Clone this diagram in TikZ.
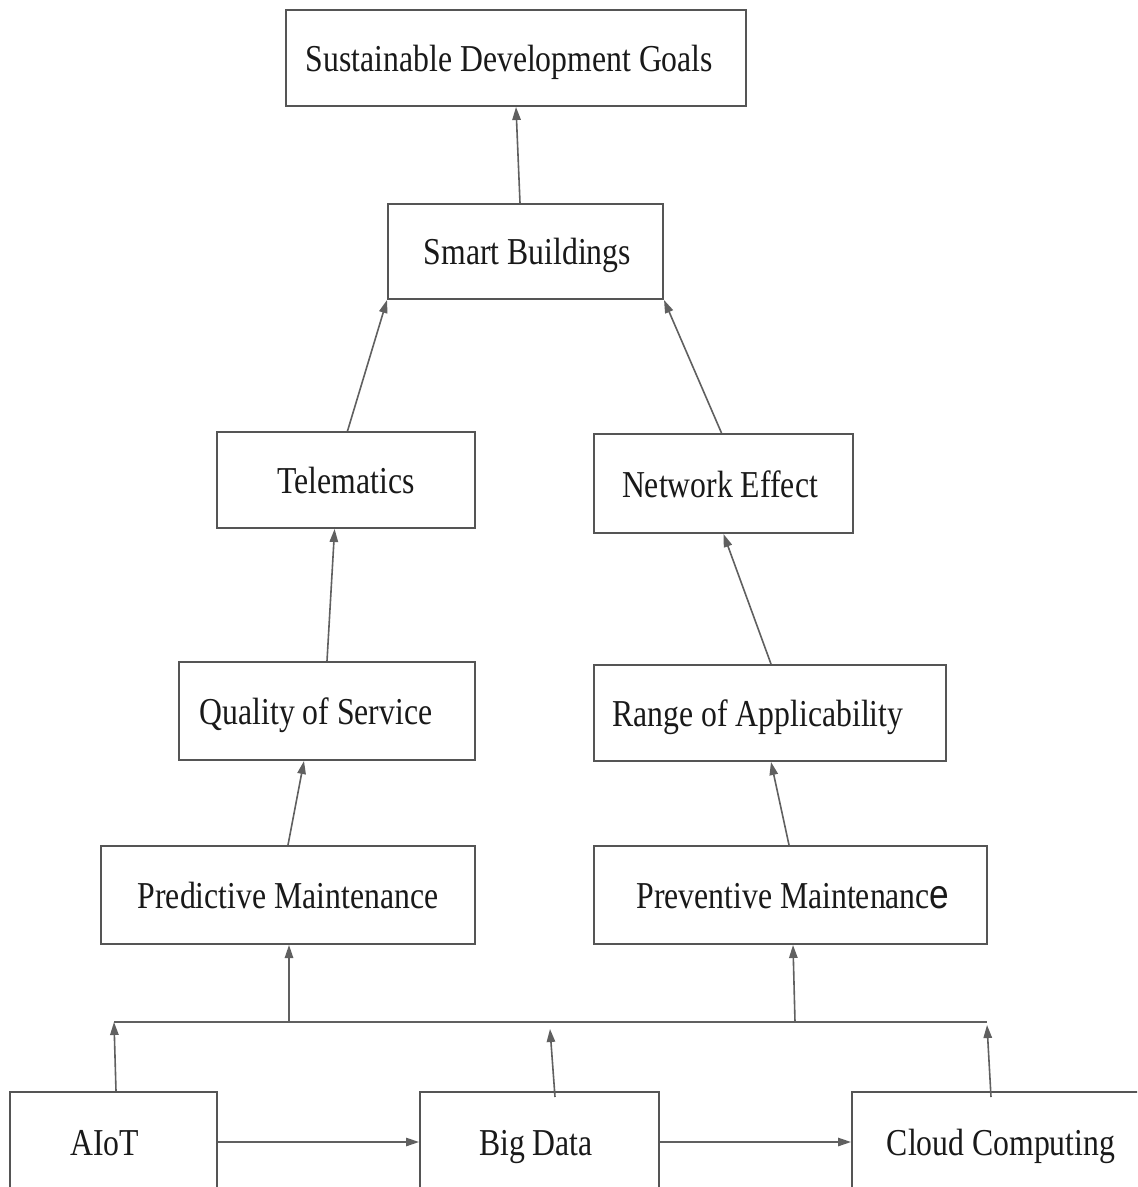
\documentclass[tikz,border=0pt]{standalone}
\usepackage{fontspec}
\setmainfont{Liberation Serif}[FakeStretch=0.835]
\newfontfamily\sanse{Liberation Sans}[FakeStretch=0.86]
\usetikzlibrary{arrows.meta}
\definecolor{boxgray}{HTML}{555555}
\definecolor{linegray}{HTML}{606060}
\begin{document}
\begin{tikzpicture}[x=0.5pt,y=-0.5pt,
  box/.style={draw=boxgray, line width=1pt, inner sep=0pt, rectangle,
    text height=15pt, text depth=1.5pt,
    font=\fontsize{19}{22}\selectfont, text=black!90},
  arr/.style={draw=linegray, line width=0.8pt, -{Triangle[length=6.5pt,width=4.2pt]}},
  bar/.style={draw=linegray, line width=1.1pt}]
\useasboundingbox (0,0) rectangle (1137,1187);
\fill[white] (0,0) rectangle (1137,1187);
\clip (0,0) rectangle (1137,1187);

\node[box, minimum width=230pt, minimum height=48pt] (sdg) at (516,58) {Sustainable Development Goals\hspace*{6.5pt}};
\node[box, minimum width=137.5pt, minimum height=47.5pt] (sb) at (525.5,251.5) {\hspace*{2pt}Smart Buildings};
\node[box, minimum width=129pt, minimum height=48pt] (tel) at (346,480) {Telematics};
\node[box, minimum width=129.5pt, minimum height=49.5pt] (net) at (723.5,483.5) {Network Effect\hspace*{3.5pt}};
\node[box, minimum width=148pt, minimum height=49pt] (qos) at (327,711) {Quality of Service\hspace*{11pt}};
\node[box, minimum width=176pt, minimum height=48pt] (roa) at (770,713) {Range of Applicability\hspace*{12pt}};
\node[box, minimum width=187pt, minimum height=49pt] (pdm) at (288,895) {Predictive Maintenance};
\node[box, minimum width=196.5pt, minimum height=49pt] (pvm) at (790.5,895) {\hspace*{2.5pt}Preventive Maintenanc{\sanse\fontsize{20.5}{22}\selectfont e}};
\node[box, minimum width=103.5pt, minimum height=50pt] (aiot) at (113.5,1142) {AIoT\hspace*{9pt}};
\node[box, minimum width=119.5pt, minimum height=50pt] (bd) at (539.5,1142) {Big Data\hspace*{3.5pt}};
\node[box, minimum width=149pt, minimum height=50pt] (cc) at (1001,1142) {Cloud Computing};

% upper arrows
\draw[arr] ([xshift=-2.75pt]sb.north) -- (sdg.south);
\draw[arr] ([xshift=0.75pt]tel.north) -- (sb.south west);
\draw[arr] ([xshift=-1pt]net.north) -- (sb.south east);
\draw[arr] (qos.north) -- ([xshift=-5.7pt]tel.south);
\draw[arr] ([xshift=0.5pt]roa.north) -- (net.south);
\draw[arr] (pdm.north) -- ([xshift=-11.5pt]qos.south);
\draw[arr] ([xshift=-0.75pt]pvm.north) -- ([xshift=0.5pt]roa.south);

% bus bar
\coordinate (bl) at (114,1022);
\coordinate (br) at (987,1022);
\coordinate (j1) at (289,1022);
\coordinate (j2) at (795,1022);
\coordinate (t2) at (550,1029);
\coordinate (t3) at (987,1025);
\draw[bar] (bl) -- (br);
\draw[arr] (j1) -- (j1 |- pdm.south);
\draw[arr] (j2) -- ([xshift=1.25pt]pvm.south);
\draw[arr] ([xshift=1.25pt]aiot.north) -- (bl);
\draw[arr] ([xshift=7.75pt,yshift=-3pt]bd.north) -- (t2);
\draw[arr] ([xshift=-5pt,yshift=-3pt]cc.north) -- (t3);

% bottom chain
\draw[arr] (aiot.east) -- (bd.west);
\draw[arr] (bd.east) -- (cc.west);
\end{tikzpicture}
\end{document}
